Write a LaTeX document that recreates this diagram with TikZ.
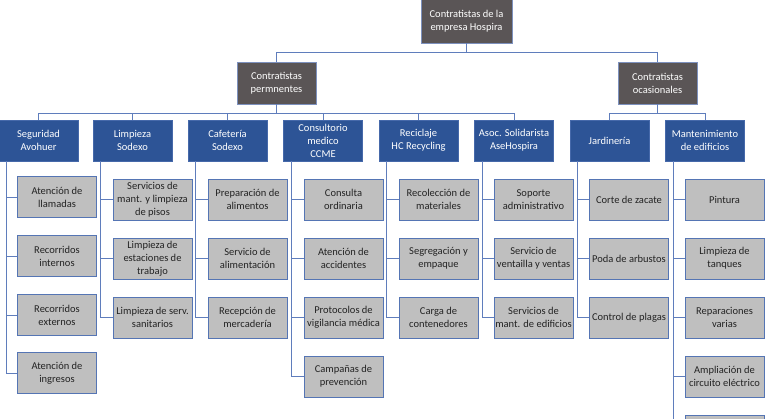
\documentclass[tikz,border=0pt]{standalone}
\usepackage{fontspec}
\setmainfont{Carlito}
\definecolor{darkfill}{RGB}{90,85,86}
\definecolor{darkline}{RGB}{125,145,190}
\definecolor{bluefill}{RGB}{45,84,150}
\definecolor{blueline}{RGB}{70,105,170}
\definecolor{grayfill}{RGB}{191,191,191}
\definecolor{grayline}{RGB}{85,117,180}
\definecolor{conn}{RGB}{95,125,188}
\definecolor{txtdark}{RGB}{35,35,35}
\begin{document}
\begin{tikzpicture}[x=1pt,y=-1pt,
  basebox/.style={rectangle,align=center,inner sep=1pt,font=\fontsize{10.5}{13}\selectfont,line width=0.9pt},
  topbox/.style={basebox,fill=darkfill,draw=darkline,text=white,minimum width=91pt,minimum height=44pt},
  midbox/.style={basebox,fill=darkfill,draw=darkline,text=white,minimum width=79pt,minimum height=42pt},
  bluebox/.style={basebox,fill=bluefill,draw=blueline,text=white,minimum width=79pt,minimum height=41pt},
  graybox/.style={basebox,fill=grayfill,draw=grayline,text=txtdark,minimum width=79pt,minimum height=41pt},
  link/.style={draw=conn,line width=0.8pt}]
\useasboundingbox (0,0) rectangle (765,418);
\begin{scope}
\clip (0,0) rectangle (765,418);
% top levels
\node[topbox] (top) at (466.5,21) {Contratistas de la\\empresa Hospira};
\node[midbox] (perm) at (276.5,83) {Contratistas\\permnentes};
\node[midbox] (ocas) at (657.5,83) {Contratistas\\ocasionales};
\draw[link] (top.south) -- ++(0,9) -| (perm.north);
\draw[link] (top.south) -- ++(0,9) -| (ocas.north);
% blue level
\node[bluebox] (seg) at (38.5,140.5) {Seguridad\\Avohuer};
\node[bluebox] (lim) at (132.5,140.5) {Limpieza\\Sodexo};
\node[bluebox] (caf) at (227.5,140.5) {Cafetería\\Sodexo};
\node[bluebox] (con) at (323,140.5) {Consultorio\\medico\\CCME};
\node[bluebox] (rec) at (418.5,140.5) {Reciclaje\\HC Recycling};
\node[bluebox] (aso) at (514,140.5) {Asoc. Solidarista\\AseHospira};
\node[bluebox] (jar) at (609.5,140.5) {Jardinería};
\node[bluebox] (man) at (705,140.5) {Mantenimiento\\de edificios};
\foreach \b in {seg,lim,caf,con,rec,aso}
  \draw[link] (perm.south) -- ++(0,9) -| (\b.north);
\foreach \b in {jar,man}
  \draw[link] (ocas.south) -- ++(0,9) -| (\b.north);
% Seguridad children
\node[graybox] (s1) at (57,197) {Atención de\\llamadas};
\node[graybox] (s2) at (57,256) {Recorridos\\internos};
\node[graybox] (s3) at (57,315) {Recorridos\\externos};
\node[graybox] (s4) at (57,373) {Atención de\\ingresos};
% Limpieza children
\node[graybox] (l1) at (152.5,199.5) {Servicios de\\mant. y limpieza\\de pisos};
\node[graybox] (l2) at (152.5,258.5) {Limpieza de\\estaciones de\\trabajo};
\node[graybox] (l3) at (152.5,317.5) {Limpieza de serv.\\sanitarios};
% Cafeteria children
\node[graybox] (c1) at (247.5,199.5) {Preparación de\\alimentos};
\node[graybox] (c2) at (247.5,258.5) {Servicio de\\alimentación};
\node[graybox] (c3) at (247.5,317.5) {Recepción de\\mercadería};
% Consultorio children
\node[graybox] (m1) at (343.5,199.5) {Consulta\\ordinaria};
\node[graybox] (m2) at (343.5,258.5) {Atención de\\accidentes};
\node[graybox] (m3) at (343.5,317.5) {Protocolos de\\vigilancia médica};
\node[graybox] (m4) at (343.5,376.5) {Campañas de\\prevención};
% Reciclaje children
\node[graybox] (r1) at (438.5,199.5) {Recolección de\\materiales};
\node[graybox] (r2) at (438.5,258.5) {Segregación y\\empaque};
\node[graybox] (r3) at (438.5,317.5) {Carga de\\contenedores};
% Asoc children
\node[graybox] (a1) at (533.5,199.5) {Soporte\\administrativo};
\node[graybox] (a2) at (533.5,258.5) {Servicio de\\ventailla y ventas};
\node[graybox] (a3) at (533.5,317.5) {Servicios de\\mant. de edificios};
% Jardineria children
\node[graybox] (j1) at (629,199.5) {Corte de zacate};
\node[graybox] (j2) at (629,258.5) {Poda de arbustos};
\node[graybox] (j3) at (629,317.5) {Control de plagas};
% Mantenimiento children
\node[graybox] (t1) at (724.5,199.5) {Pintura};
\node[graybox] (t2) at (724.5,258.5) {Limpieza de\\tanques};
\node[graybox] (t3) at (724.5,317.5) {Reparaciones\\varias};
\node[graybox] (t4) at (724.5,376.5) {Ampliación de\\circuito eléctrico};
\node[graybox] (t5) at (724.5,435.5) {};
% connectors to children
\foreach \p/\cl in {seg/{s1,s2,s3,s4},lim/{l1,l2,l3},caf/{c1,c2,c3},con/{m1,m2,m3,m4},rec/{r1,r2,r3},aso/{a1,a2,a3},jar/{j1,j2,j3},man/{t1,t2,t3,t4,t5}}
  \foreach \c in \cl
    \draw[link] ([xshift=8pt]\p.south west) |- (\c.west);
\end{scope}
\end{tikzpicture}
\end{document}
